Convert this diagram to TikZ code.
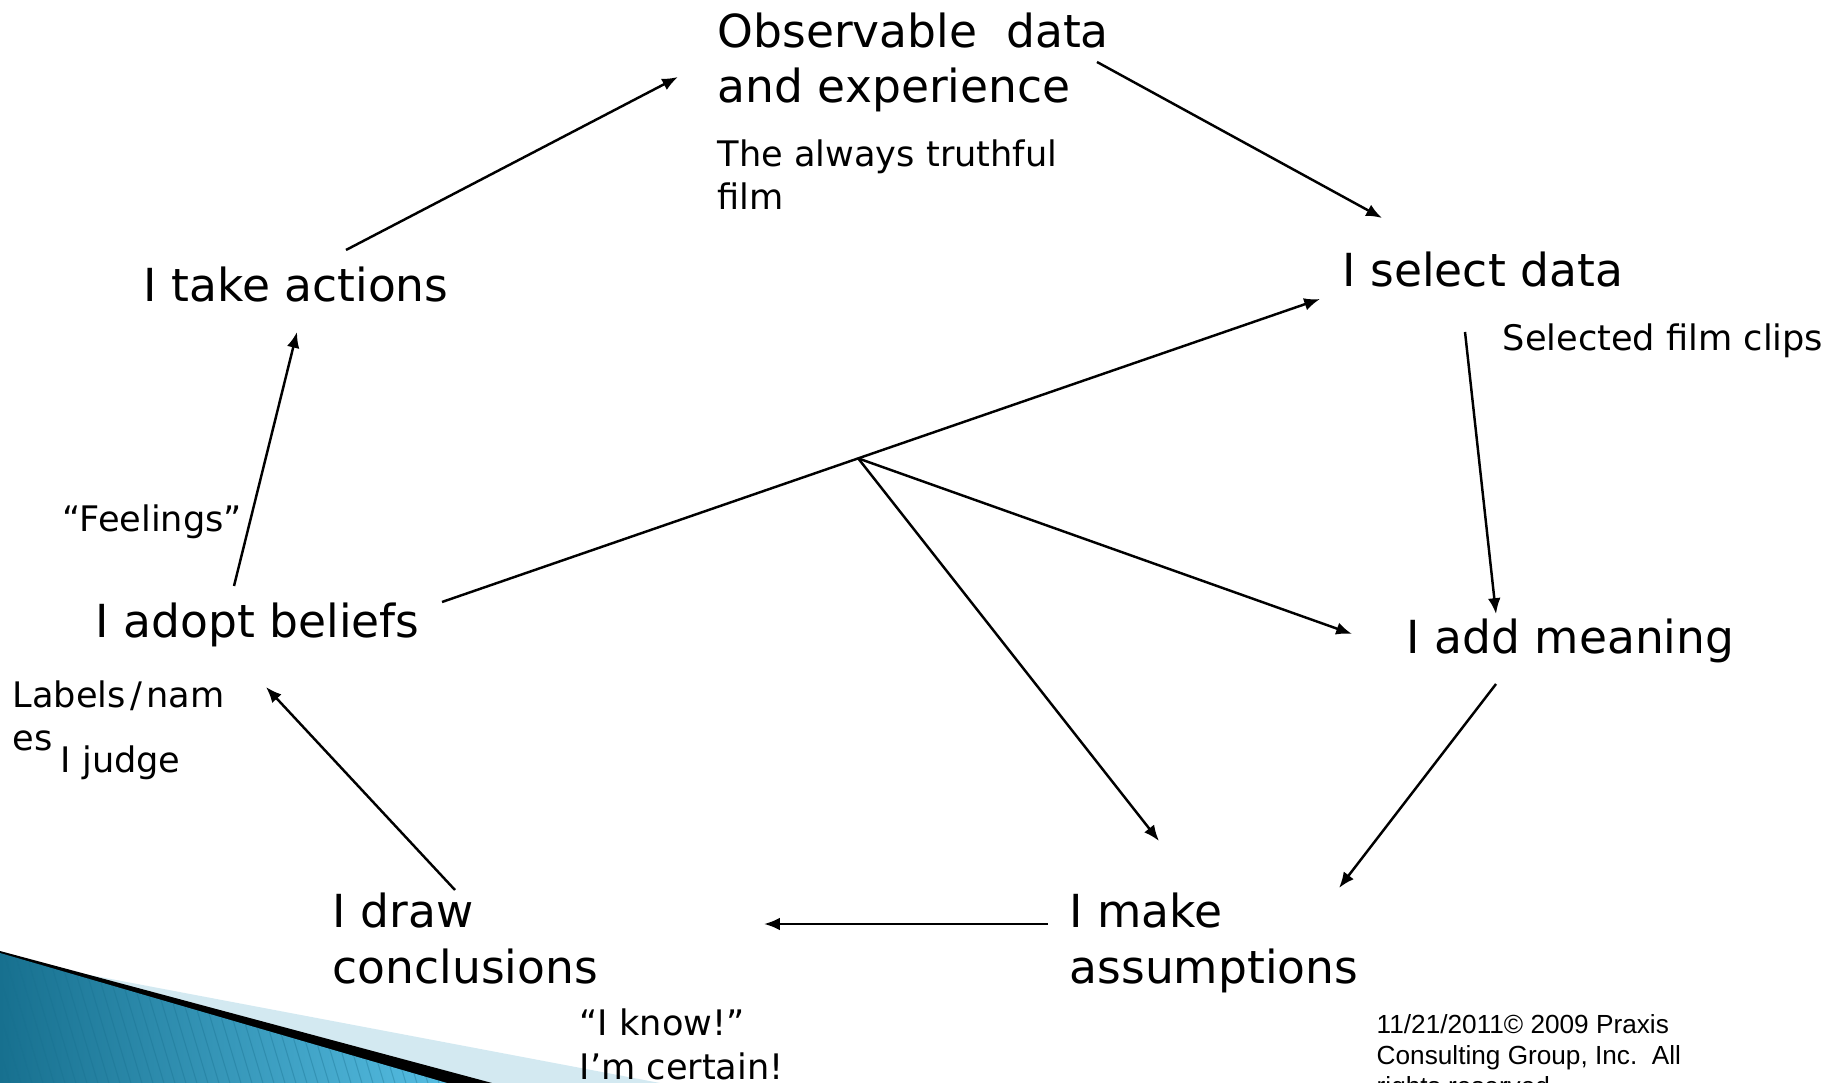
\documentclass[tikz,border=0pt]{standalone}
\usepackage{fontspec}
\setmainfont{DejaVu Sans}
\newfontfamily\copyfont{Liberation Sans}
\usetikzlibrary{positioning, arrows.meta, calc}
\definecolor{swooshdark}{HTML}{17708F}
\definecolor{swooshlight}{HTML}{55BDE2}
\definecolor{swooshpale}{HTML}{D3E9F1}

\begin{document}
\begin{tikzpicture}[
        x=0.01cm, y=-0.01cm,
        stage/.style={anchor=base west, inner sep=0pt, align=left, font=\fontsize{12.95}{15.9}\selectfont},
        note/.style={anchor=base west, inner sep=0pt, align=left, font=\fontsize{10}{12.4}\selectfont},
        credit/.style={anchor=base west, inner sep=0pt, align=left, font=\copyfont\fontsize{7.45}{8.8}\selectfont},
        arrow/.style={-{Latex[length=4.5pt, width=3.6pt]}, line width=0.7pt}
    ]
        \useasboundingbox (0,0) rectangle (1840,1083);
        \clip (0,0) rectangle (1840,1083);

        % Swoosh
        \fill[swooshpale] (0,958) -- (660,1083) -- (0,1083) -- cycle;
        \fill[black] (0,951) -- (492,1083) -- (0,1083) -- cycle;
        \fill[left color=swooshdark, right color=swooshlight] (0,953) -- (447,1083) -- (0,1083) -- cycle;
        \begin{scope}
            \clip (0,953) -- (447,1083) -- (0,1083) -- cycle;
            \foreach \i in {-20,...,45}
                \draw[swooshdark, line width=0.3pt, opacity=0.35] (\i*11,940) -- ++(45,150);
        \end{scope}

        % Stages (base = last line)
        \node[stage] (observe) at (717,103) {Observable\ \ data\\and experience};
        \node[note] (film) at (717,210) {The always truthful\\film};
        \node[stage] (select) at (1342,287) {I select data};
        \node[note] (clips) at (1502,351) {Selected film clips};
        \node[stage] (meaning) at (1406,654) {I add meaning};
        \node[stage] (assume) at (1069,983) {I make\\assumptions};
        \node[stage] (conclude) at (332,983) {I draw\\conclusions};
        \node[note] (know) at (579,1079) {“I know!”\\I’m certain!};
        \node[stage] (beliefs) at (95,638) {I adopt beliefs};
        \node[note] (labels) at (12,751) {Labels\kern1.2pt/\kern1.2pt nam\\es};
        \node[note] (judge) at (60,773) {I judge};
        \node[note] (feelings) at (62,532) {“Feelings”};
        \node[stage] (actions) at (143,302) {I take actions};
        \node[credit] (rights) at (1376,1095) {11/21/2011© 2009 Praxis\\Consulting Group, Inc.\ \ All\\rights reserved.};

        % Arrow ends
        \coordinate (actions out) at (346,250);
        \coordinate (observe in) at (678,77);
        \coordinate (observe out) at (1097,62);
        \coordinate (select in) at (1382,218);
        \coordinate (select out) at (1465,332);
        \coordinate (meaning in) at (1496,614);
        \coordinate (meaning out) at (1496,684);
        \coordinate (assume in) at (1339,888);
        \coordinate (assume out) at (1048,924);
        \coordinate (conclude in) at (764,924);
        \coordinate (conclude out) at (455,890);
        \coordinate (beliefs in) at (266,687);
        \coordinate (beliefs out) at (234,586);
        \coordinate (actions in) at (297,332);
        \coordinate (beliefs loop) at (442,602);
        \coordinate (select loop) at (1320,299);
        \coordinate (fork) at ($(beliefs loop)!0.474!(select loop)$);
        \coordinate (meaning loop) at (1352,634);
        \coordinate (assume loop) at (1159,841);

        % Arrows
        \draw [arrow] (actions out) -- (observe in);
        \draw [arrow] (observe out) -- (select in);
        \draw [arrow] (select out) -- (meaning in);
        \draw [arrow] (meaning out) -- (assume in);
        \draw [arrow] (assume out) -- (conclude in);
        \draw [arrow] (conclude out) -- (beliefs in);
        \draw [arrow] (beliefs out) -- (actions in);

        % Reflexive loop
        \draw [arrow] (beliefs loop) -- (select loop);
        \draw [arrow] (fork) -- (meaning loop);
        \draw [arrow] (fork) -- (assume loop);
    \end{tikzpicture}
\end{document}
